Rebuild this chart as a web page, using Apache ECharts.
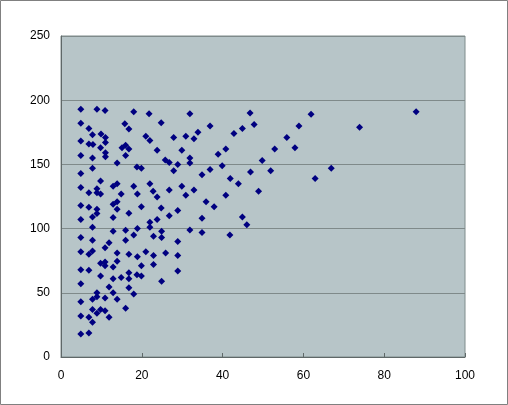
<!DOCTYPE html>
<html>
<head>
<meta charset="utf-8">
<script src="https://cdn.jsdelivr.net/npm/echarts@6/dist/echarts.min.js"></script>
<style>
html,body{margin:0;padding:0;background:#fff;}
#c{width:508px;height:405px;}
</style>
</head>
<body>
<div id="c"></div>
<script>
var xTicks = [0, 20, 40, 60, 80, 100];
var yTicks = [0, 50, 100, 150, 200, 250];

var xValues = [
 4.9,8.9,10.9,18,21.8, 4.9,6.9,15.8,16.8, 7.8,9.9,11,21,22,
 4.9,6.9,7.9,11,9.8,15.1,16,16.8,23.8, 4.9,7.8,11,11,16,13.9,
 4.9,7.8,18.8,19.9, 9.8,
 4.9,6.9,8.9,8.9,9.8,12.9,13.9,14.9,18,18.9,22,22.8,23.8,
 4.9,6.9,8.9,8.9,12.9,13.9,13.9,19.9,16.8,
 7.8,4.9,12.9,22,23.8,
 7.8,12.9,16,18.9,22,22.9,
 4.9,7.8,18,16,11.9,
 10.9,4.9,6.9,7.8,13.9,16.8,18.9,21,22.9,
 9.8,10.9,10.9,13.9,12.9,19.9,22.9,
 4.9,6.9,9.8,12.9,14.9,16.8,16.8,18.8,19.9,
 4.9,11.9,12.9,16.8,18,
 8.9,7.8,8.9,10.9,13.9,4.9,
 16,7.8,9.8,10.9,8.9,11.9,4.9,6.9,7.8,
 4.9,6.9,
 31.9,46.8,24.8,36.9,47.8,
 27.9,30.9,32.9,33.9,42.8,44.9,
 29.9,25.8,26.8,31.9,31.9,28.9,38.9,40.8,39.9,49.8,
 27.9,34.9,36.9,41.9,43.9,46.9,48.9,
 26.8,29.9,30.9,32.9,40.8,
 24.8,28.9,35.9,37.9,
 26.8,34.9,44.9,46,
 31.9,34.9,41.8,24.9,24.9,28.9,
 25.9,28.9,28.9,24.9,
 61.9,87.9,58.9,73.9,55.9,52.9,57.9,51.9,66.9,62.9
];
var yValues = [
 193,193,192,191,189.4, 182,178,181.6,177.5, 173,173.6,171,172,168.6,
 168.3,165.8,165.5,167,163,163,165,162,161, 157,155,159,156,157,151,
 143,147,148,147, 137,
 132,128,131,128,127,133,135,127,133,127,135,129,124.6,
 118,116.6,115,111.7,119,121,115,117,112,
 109,107,108.6,105,107,
 101,98,98.7,100,101,94,
 93,91,95,91,89,
 85,82,80,82.5,81,80,78,82,79,
 73,74,71,74.5,70,71,72,
 68,67.5,63,61,62,65.7,61,64,63,
 57,54.5,50,54,49,
 50,45,47,46,45,43,
 38,37,37,36,34,31,32,31,27,
 18,18.6,
 189.4,190,182.4,180,181,
 171,172,170,175,174,178,
 161,153.5,151.5,155,151,150,158,162,149,153,
 145,142,146,139,135,144,129,
 130,133,126,130,126,
 116,114,121,117,
 110,108,109,103,
 99,97,95,98,93,90,
 81,79,67,59,
 189,191,180,179,171,162,163,145,147,139
];

var points = xValues.map(function (x, i) { return [x, yValues[i]]; });

var chart = echarts.init(document.getElementById('c'), null, {renderer: 'canvas'});
var font = {color: '#000', fontSize: 12, fontFamily: 'Liberation Sans, Arial, sans-serif'};
chart.setOption({
  animation: false,
  backgroundColor: '#fff',
  graphic: [{
    type: 'rect', z: 100, silent: true,
    shape: {x: 0.5, y: 0.5, width: 507, height: 404},
    style: {fill: 'none', stroke: '#808080', lineWidth: 1}
  }],
  grid: {
    left: 61, right: 43, top: 36, bottom: 48,
    show: true, backgroundColor: '#B7C5C8', borderColor: '#7F8C8C', borderWidth: 1
  },
  xAxis: {
    type: 'value', min: xTicks[0], max: xTicks[xTicks.length - 1], interval: 20,
    axisLine: {show: true, lineStyle: {color: '#5F6868', width: 1}},
    axisTick: {show: true, inside: true, length: 4, lineStyle: {color: '#5F6868'}},
    axisLabel: Object.assign({margin: 13}, font),
    splitLine: {show: false}
  },
  yAxis: {
    type: 'value', min: yTicks[0], max: yTicks[yTicks.length - 1], interval: 50,
    axisLine: {show: true, lineStyle: {color: '#5F6868', width: 1}},
    axisTick: {show: false},
    axisLabel: Object.assign({margin: 11}, font),
    splitLine: {show: true, lineStyle: {color: '#7F8A8A', width: 1}}
  },
  series: [{
    type: 'scatter',
    symbol: 'diamond',
    symbolSize: 7,
    itemStyle: {color: '#000080', opacity: 1},
    data: points
  }]
});
</script>
</body>
</html>
